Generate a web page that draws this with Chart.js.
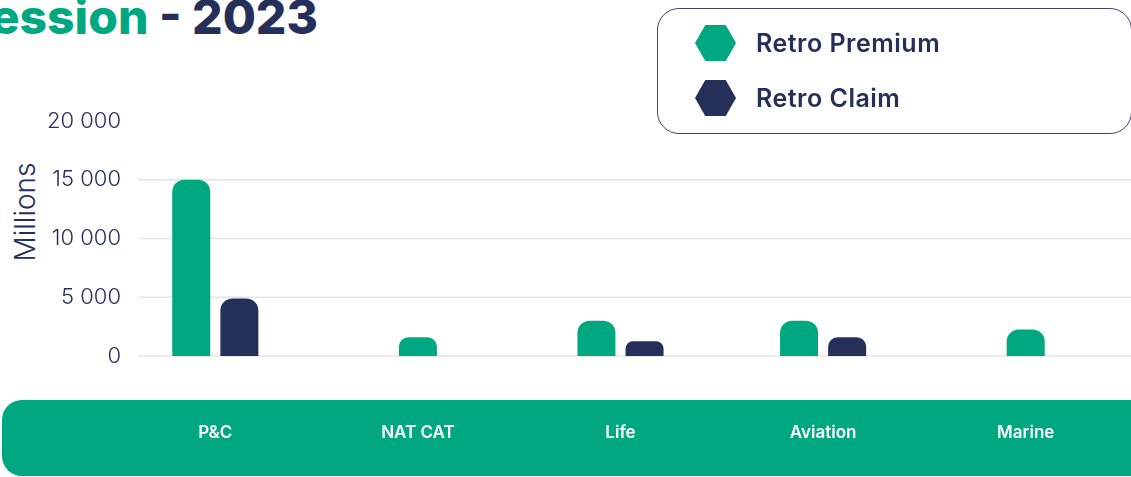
<!DOCTYPE html>
<html>
<head>
<meta charset="utf-8">
<script src="https://cdn.jsdelivr.net/npm/chart.js@4/dist/chart.umd.min.js"></script>
<style>
body{margin:0;width:1131px;height:477px;overflow:hidden;background:#fff;position:relative;font-family:Inter,"Noto Sans",sans-serif;}
#band{position:absolute;left:2px;top:400px;width:1200px;height:76px;background:#00a881;border-radius:20px;}
#title{position:absolute;right:813px;top:-7px;font-weight:800;font-size:48px;line-height:48px;white-space:nowrap;color:#25305a;}
#title .g{color:#00a881;}
#ylab{position:absolute;left:25px;top:212px;transform:translate(-50%,-50%) rotate(-90deg);font-size:28px;font-weight:300;color:#25305a;white-space:nowrap;}
#legend{position:absolute;left:657px;top:8px;width:475px;height:126px;border:1.3px solid #3d466e;border-radius:22px;box-sizing:border-box;}
.item{position:absolute;left:37px;height:36px;display:flex;align-items:center;font-size:25px;font-weight:600;letter-spacing:0.5px;color:#25305a;white-space:nowrap;}
.hex{width:41px;height:36px;margin-right:20px;clip-path:polygon(25% 0,75% 0,100% 50%,75% 100%,25% 100%,0 50%);}
canvas{position:absolute;left:0;top:0;}
</style>
</head>
<body>
<div id="band"></div>
<div id="title"><span class="g">ession</span> - 2023</div>
<div id="ylab">Millions</div>
<canvas id="myChart" width="1131" height="477"></canvas>
<div id="legend"></div>
<script>
var categories = ['P&C', 'NAT CAT', 'Life', 'Aviation', 'Marine'];
var retroPremium = [15000, 1600, 3000, 3000, 2250];
var retroClaim = [4900, null, 1250, 1600, null];
var yTicks = [0, 5000, 10000, 15000, 20000];

var green = '#00a881';
var navy = '#25305a';

function fmt(v){
    return String(v).replace(/\B(?=(\d{3})+(?!\d))/g, ' ');
}

// light grid lines, starting a bit right of the axis labels
var lightGrid = {
    id: 'lightGrid',
    beforeDatasetsDraw(chart){
        var ctx = chart.ctx, area = chart.chartArea, y = chart.scales.y;
        ctx.save();
        ctx.strokeStyle = '#e4e4e8';
        ctx.lineWidth = 1.5;
        y.ticks.forEach(function(t){
            if (t.value >= y.max) return;
            var py = y.getPixelForValue(t.value);
            ctx.beginPath();
            ctx.moveTo(area.left + 25, py);
            ctx.lineTo(area.right + 4, py);
            ctx.stroke();
        });
        ctx.restore();
    }
};

var ctx = document.getElementById('myChart').getContext('2d');
var chart = new Chart(ctx, {
    type: 'bar',
    data: {
        labels: categories,
        datasets: [{
            label: 'Retro Premium',
            backgroundColor: green,
            data: retroPremium
        }, {
            label: 'Retro Claim',
            backgroundColor: navy,
            data: retroClaim
        }]
    },
    options: {
        responsive: false,
        animation: false,
        skipNull: true,
        maxBarThickness: 38,
        categoryPercentage: 0.475,
        barPercentage: 1,
        borderRadius: 12,
        borderSkipped: 'start',
        layout: { padding: { top: 121, right: 4, left: 0, bottom: 0 } },
        plugins: { legend: { display: false }, tooltip: { enabled: false } },
        scales: {
            x: {
                grid: { display: false },
                border: { display: false },
                ticks: { color: '#ffffff', padding: 59, font: { family: 'Inter', size: 17, weight: 600 } },
                afterFit: function(s){ s.height = 121; }
            },
            y: {
                min: 0,
                max: 20000,
                afterBuildTicks: function(s){ s.ticks = yTicks.map(function(v){ return { value: v }; }); },
                grid: { display: false },
                border: { display: false },
                ticks: { color: navy, padding: -15, font: { family: 'Inter', size: 22, weight: 300 }, callback: function(v){ return fmt(v); } },
                afterFit: function(s){
                    s.width = 114;
                    // let the labels run a little past the axis box
                    s._computeLabelArea = function(){ return undefined; };
                }
            }
        }
    },
    plugins: [lightGrid]
});

// legend built from the datasets
var legend = document.getElementById('legend');
chart.data.datasets.forEach(function(ds, i){
    var item = document.createElement('div');
    item.className = 'item';
    item.style.top = (16 + i * 55) + 'px';
    var hex = document.createElement('div');
    hex.className = 'hex';
    hex.style.background = ds.backgroundColor;
    var txt = document.createElement('span');
    txt.textContent = ds.label;
    item.appendChild(hex);
    item.appendChild(txt);
    legend.appendChild(item);
});
</script>
</body>
</html>
